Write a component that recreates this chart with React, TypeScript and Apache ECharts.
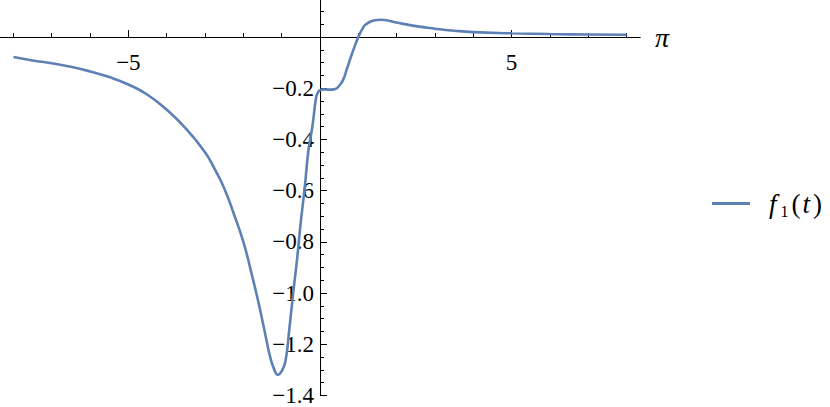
import { useEffect, useRef } from 'react';
import * as echarts from 'echarts';

const tValues = [-8, -7.5, -7, -6.5, -6, -5.5, -5, -4.5, -4, -3.5, -3, -2.75, -2.5, -2.25, -2, -1.8, -1.6, -1.45, -1.3, -1.2, -1.1, -1.0, -0.9, -0.8, -0.7, -0.6, -0.5, -0.4, -0.3, -0.2, -0.1, -0.05, 0, 0.1, 0.2, 0.3, 0.4, 0.5, 0.6, 0.7, 0.8, 0.9, 1.0, 1.1, 1.2, 1.4, 1.6, 1.8, 2.0, 2.5, 3, 3.5, 4, 5, 6, 7, 8];
const f1Values = [-0.078, -0.091, -0.102, -0.116, -0.134, -0.156, -0.185, -0.225, -0.284, -0.357, -0.45, -0.515, -0.59, -0.69, -0.80, -0.915, -1.04, -1.145, -1.25, -1.296, -1.319, -1.305, -1.265, -1.14, -1.0, -0.87, -0.72, -0.59, -0.44, -0.35, -0.235, -0.215, -0.207, -0.204, -0.205, -0.205, -0.203, -0.19, -0.168, -0.125, -0.08, -0.038, 0.0, 0.03, 0.05, 0.065, 0.068, 0.064, 0.057, 0.043, 0.033, 0.025, 0.0195, 0.015, 0.012, 0.01, 0.009];

const xMajorTicks = [-5, 5];
const xMinorTicks = [-8, -7, -6, -4, -3, -2, -1, 1, 2, 3, 4, 6, 7, 8];
const yMajorTicks = [-0.2, -0.4, -0.6, -0.8, -1.0, -1.2, -1.4];
const yMinorTicks = [0.1, 0.05, -0.05, -0.1, -0.15, -0.25, -0.3, -0.35, -0.45, -0.5, -0.55, -0.65, -0.7, -0.75, -0.85, -0.9, -0.95, -1.05, -1.1, -1.15, -1.25, -1.3, -1.35];

const FONT = 'Liberation Serif';

export default function App() {
  const ref = useRef<HTMLDivElement>(null);
  useEffect(() => {
    const chart = echarts.init(ref.current!, null, { renderer: 'svg' });
    const minus = (s: string) => s.replace('-', '\u2212');
    const xRange = { min: -8.35, max: 8.35 };
    const yRange = { min: -1.4, max: 0.145 };
    const gridW = 640;
    const gridH = 395.5;
    const xZeroOffset = -((0 - xRange.min) / (xRange.max - xRange.min)) * gridW;
    const yZeroOffset = -((yRange.max - 0) / (yRange.max - yRange.min)) * gridH;
    const axisLine = { onZero: false, lineStyle: { color: '#000', width: 1 } };
    const base = { fontFamily: FONT, color: '#000', verticalAlign: 'top' as const };
    chart.setOption({
      animation: false,
      textStyle: { fontFamily: FONT },
      grid: { left: 0, top: 0, width: gridW, height: gridH, containLabel: false, outerBoundsMode: 'none' },
      legend: {
        left: 712,
        top: 190,
        padding: 0,
        orient: 'vertical',
        icon: 'rect',
        itemWidth: 38,
        itemHeight: 3,
        data: ['f1'],
        formatter: () => '{f|f}{s|1}{l|(}{t|t}{r|)}',
        textStyle: {
          fontFamily: FONT,
          padding: [0, 0, 0, 14],
          rich: {
            f: { ...base, fontStyle: 'italic', fontSize: 27, lineHeight: 27, padding: [0, 4, 0, 0] },
            s: { ...base, fontSize: 16, lineHeight: 16, padding: [13, 3, 0, 0] },
            l: { ...base, fontSize: 27, lineHeight: 27, padding: [0, 2, 0, 0] },
            t: { ...base, fontStyle: 'italic', fontSize: 27, lineHeight: 27, padding: [0, 3, 0, 0] },
            r: { ...base, fontSize: 27, lineHeight: 27 },
          },
        },
      },
      xAxis: [
        {
          type: 'value',
          ...xRange,
          position: 'top',
          offset: yZeroOffset,
          axisLine,
          axisTick: { show: true, inside: false, length: 7, customValues: xMajorTicks, lineStyle: { color: '#000' } },
          axisLabel: {
            customValues: xMajorTicks,
            inside: true,
            margin: 14,
            formatter: (v: number) => minus(String(v)),
            fontFamily: FONT,
            fontSize: 23,
            color: '#000',
          },
          splitLine: { show: false },
          name: '\u03c0',
          nameLocation: 'end',
          nameGap: 15,
          nameTextStyle: { fontFamily: FONT, fontStyle: 'italic', fontSize: 28, color: '#000', verticalAlign: 'middle' },
        },
        {
          type: 'value',
          ...xRange,
          position: 'top',
          offset: yZeroOffset,
          axisLine,
          axisTick: { show: true, inside: false, length: 4, customValues: xMinorTicks, lineStyle: { color: '#000' } },
          axisLabel: { show: false },
          splitLine: { show: false },
        },
      ],
      yAxis: [
        {
          type: 'value',
          ...yRange,
          position: 'left',
          offset: xZeroOffset,
          axisLine,
          axisTick: { show: true, inside: true, length: 7, customValues: yMajorTicks, lineStyle: { color: '#000' } },
          axisLabel: {
            customValues: yMajorTicks,
            margin: 6,
            formatter: (v: number) => minus(v.toFixed(1)),
            fontFamily: FONT,
            fontSize: 23,
            color: '#000',
          },
          splitLine: { show: false },
        },
        {
          type: 'value',
          ...yRange,
          position: 'left',
          offset: xZeroOffset,
          axisLine,
          axisTick: { show: true, inside: true, length: 4, customValues: yMinorTicks, lineStyle: { color: '#000' } },
          axisLabel: { show: false },
          splitLine: { show: false },
        },
      ],
      series: [
        {
          name: 'f1',
          type: 'line',
          xAxisIndex: 0,
          yAxisIndex: 0,
          data: tValues.map((t, i) => [t, f1Values[i]]),
          showSymbol: false,
          symbol: 'none',
          smooth: 0.5,
          lineStyle: { color: '#5E81B5', width: 2.6 },
          itemStyle: { color: '#5E81B5' },
        },
      ],
    });
    return () => chart.dispose();
  }, []);
  return <div ref={ref} style={{ position: 'fixed', left: 0, top: 0, width: 830, height: 407, background: '#fff' }} />;
}
